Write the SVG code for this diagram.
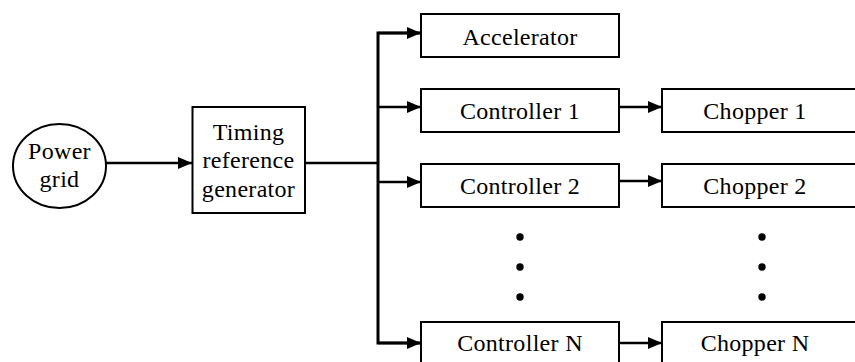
<svg xmlns="http://www.w3.org/2000/svg" width="855" height="362" viewBox="0 0 855 362">
<style>
.box{fill:#fff;stroke:#000;stroke-width:2}
.lbl{font-family:"Liberation Serif","Times New Roman",serif;font-size:24px;fill:#000;text-anchor:middle;letter-spacing:0.3px}
.wire{fill:none;stroke:#000;stroke-width:2.5}
.dot{fill:#000}
</style>
<defs>
<marker id="ah" markerWidth="14" markerHeight="12" refX="14" refY="6" orient="auto" markerUnits="userSpaceOnUse">
<path d="M0,0 L14,6 L0,12 Z" fill="#000"/>
</marker>
</defs>
<rect width="855" height="362" fill="#fff"/>
<g id="connectors">
<line class="wire" x1="106" y1="163" x2="192" y2="163" marker-end="url(#ah)"/>
<line class="wire" x1="305" y1="163" x2="378" y2="163"/>
<path class="wire" d="M421,33 H378 V343 H421" style="stroke-width:3"/>
<line class="wire" x1="378" y1="33" x2="421" y2="33" marker-end="url(#ah)"/>
<line class="wire" x1="378" y1="107" x2="421" y2="107" marker-end="url(#ah)"/>
<line class="wire" x1="378" y1="182" x2="421" y2="182" marker-end="url(#ah)"/>
<line class="wire" x1="378" y1="343" x2="421" y2="343" marker-end="url(#ah)"/>
<line class="wire" x1="619" y1="107" x2="662" y2="107" marker-end="url(#ah)"/>
<line class="wire" x1="619" y1="181" x2="662" y2="181" marker-end="url(#ah)"/>
<line class="wire" x1="619" y1="343" x2="662" y2="343" marker-end="url(#ah)"/>
</g>
<g id="power-grid">
<ellipse class="box" cx="59.5" cy="166" rx="46.5" ry="42"/>
<text class="lbl" x="59.5" y="159">Power</text>
<text class="lbl" x="59.5" y="187">grid</text>
</g>
<g id="timing">
<rect class="box" x="192.5" y="107" width="112.5" height="106"/>
<text class="lbl" x="248.5" y="140">Timing</text>
<text class="lbl" x="248.5" y="168">reference</text>
<text class="lbl" x="248.5" y="197">generator</text>
</g>
<g id="accelerator">
<rect class="box" x="421" y="14" width="198" height="43"/>
<text class="lbl" x="520" y="45">Accelerator</text>
</g>
<g id="controller1">
<rect class="box" x="421" y="89" width="198" height="43"/>
<text class="lbl" x="520" y="119">Controller 1</text>
</g>
<g id="chopper1">
<rect class="box" x="662" y="89" width="210" height="43"/>
<text class="lbl" x="755" y="119">Chopper 1</text>
</g>
<g id="controller2">
<rect class="box" x="421" y="164" width="198" height="43"/>
<text class="lbl" x="520" y="194">Controller 2</text>
</g>
<g id="chopper2">
<rect class="box" x="662" y="164" width="210" height="43"/>
<text class="lbl" x="755" y="194">Chopper 2</text>
</g>
<g id="ellipsis-left">
<circle class="dot" cx="520" cy="237" r="3.7"/>
<circle class="dot" cx="520" cy="267" r="3.7"/>
<circle class="dot" cx="520" cy="297" r="3.7"/>
</g>
<g id="ellipsis-right">
<circle class="dot" cx="762" cy="237" r="3.7"/>
<circle class="dot" cx="762" cy="267" r="3.7"/>
<circle class="dot" cx="762" cy="297" r="3.7"/>
</g>
<g id="controllerN">
<rect class="box" x="421" y="322" width="198" height="50"/>
<text class="lbl" x="520" y="351">Controller N</text>
</g>
<g id="chopperN">
<rect class="box" x="662" y="322" width="210" height="50"/>
<text class="lbl" x="755" y="351">Chopper N</text>
</g>
</svg>
